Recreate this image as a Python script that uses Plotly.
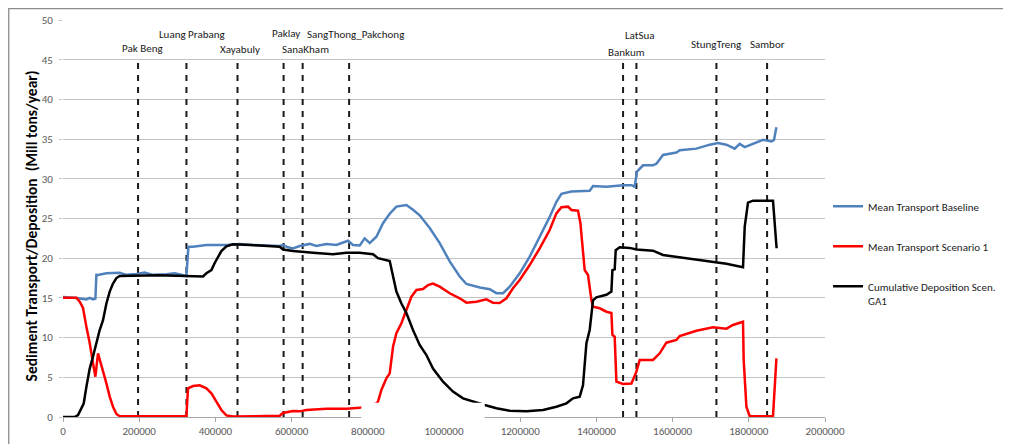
import plotly.graph_objects as go

# ---------------- data ----------------
blue_x = [0, 35200, 61400, 70100, 78700, 85000, 87700, 91900, 113900, 148800, 166400, 192700, 214400,
          236200, 271400, 293200, 323900, 329100, 341200, 376400, 428900, 463800, 498700, 533900,
          568800, 577400, 590600, 603700, 621300, 647500, 665100, 691300, 717600, 748000, 761200,
          778800, 791900, 805000, 822600, 839900, 857500, 875100, 901300, 918600, 936200, 962500,
          988700, 1015000, 1041200, 1058800, 1094000, 1120300, 1137500, 1154900, 1172500, 1198700,
          1224900, 1251200, 1277400, 1295000, 1308200, 1334400, 1382400, 1391100, 1426300, 1469800,
          1491900, 1500500, 1506600, 1522300, 1548600, 1557500, 1574800, 1610000, 1618700, 1662500,
          1697400, 1719200, 1741200, 1763000, 1776100, 1789300, 1811000, 1837300, 1859300, 1866100,
          1872500]
blue_y = [15.1, 15.0, 14.8, 15.0, 14.8, 14.9, 17.9, 17.88, 18.1, 18.17, 17.9, 18.0, 18.2,
          17.9, 17.97, 18.1, 17.75, 21.45, 21.45, 21.66, 21.66, 21.78, 21.66, 21.58,
          21.54, 21.66, 21.37, 21.24, 21.54, 21.8, 21.54, 21.8, 21.66, 22.2, 21.66,
          21.6, 22.5, 21.9, 22.7, 24.4, 25.6, 26.5, 26.7, 26.1, 25.4, 23.8,
          21.9, 19.6, 17.7, 16.75, 16.3, 16.1, 15.6, 15.6, 16.4, 18.1,
          20.2, 22.7, 25.2, 27.1, 28.1, 28.4, 28.5, 29.1, 29.0, 29.2,
          29.2, 29.0, 30.9, 31.7, 31.7, 31.9, 33.0, 33.3, 33.6, 33.8,
          34.3, 34.5, 34.3, 33.8, 34.4, 34.0, 34.4, 34.9, 34.7, 34.9,
          36.5]

red_x = [0, 35200, 43800, 52500, 61400, 70100, 78700, 85000, 91900, 98200, 105000, 113900, 122600,
         131200, 140200, 148800, 323900, 328100, 341200, 358800, 376400, 389500, 402600, 415700,
         428900, 446200, 568800, 577400, 603700, 621300, 638900, 691300, 743900, 778800, 822600,
         826800, 835700, 848800, 857500, 866200, 875100, 888200, 901300, 914500, 927600, 944900,
         958000, 971100, 988700, 1015000, 1041200, 1058800, 1085000, 1111300, 1128600, 1146200,
         1163800, 1181100, 1198700, 1224900, 1251200, 1277400, 1295000, 1308200, 1325500, 1334400,
         1351700, 1358000, 1369300, 1378000, 1386900, 1391100, 1408700, 1426300, 1439400, 1442000,
         1448000, 1452500, 1469800, 1491900, 1505000, 1513700, 1548600, 1566200, 1583700, 1610000,
         1618700, 1662500, 1706100, 1741200, 1758500, 1784800, 1786600, 1793700, 1802400, 1863500,
         1872500]
red_y = [15.03, 15.03, 14.52, 13.73, 11.37, 9.32, 6.80, 5.08, 8.02, 6.96, 5.92, 4.24, 2.56,
         1.30, 0.38, 0.10, 0.10, 3.61, 3.90, 3.99, 3.61, 2.98, 1.93, 0.88,
         0.20, 0.05, 0.15, 0.50, 0.76, 0.71, 0.89, 1.05, 1.05, 1.15, 1.70,
         1.93, 3.40, 4.87, 5.50, 8.85, 10.54, 11.80, 13.48, 15.15, 16.00, 16.12,
         16.62, 16.80, 16.41, 15.58, 14.95, 14.40, 14.52, 14.82, 14.40, 14.36,
         14.95, 16.21, 17.25, 19.14, 21.25, 23.55, 25.65, 26.41, 26.49, 26.07,
         25.98, 24.40, 18.51, 17.88, 14.74, 13.89, 13.69, 13.26, 13.10, 10.33,
         10.11, 4.45, 4.16, 4.21, 5.71, 7.18, 7.18, 8.02, 9.36, 9.70,
         10.20, 10.87, 11.30, 11.12, 11.59, 12.00, 7.18, 1.30, 0.10, 0.10,
         7.39]

black_x = [0, 30700, 39400, 45700, 54300, 61400, 70100, 78700, 87700, 96300, 105000, 113900, 122600,
           131200, 140200, 148800, 250000, 300000, 367500, 376400, 389500, 398200, 406800, 415700,
           428900, 446200, 516300, 568800, 577400, 603700, 656200, 708700, 743900, 778800, 813700,
           826800, 857500, 866200, 875100, 888200, 901300, 918600, 936200, 953800, 971100, 997400,
           1023600, 1049900, 1076100, 1106800, 1137500, 1172500, 1216300, 1259900, 1295000, 1321300,
           1338600, 1356200, 1364800, 1373800, 1382400, 1391100, 1400000, 1426300, 1439400, 1442000,
           1448000, 1450700, 1461200, 1487400, 1505000, 1548600, 1574800, 1618700, 1662500, 1715000,
           1741200, 1784800, 1789300, 1797900, 1811000, 1863500, 1873000]
black_y = [0, 0, 0.25, 0.9, 1.7, 3.8, 6.1, 7.6, 9.5, 10.96, 12.2, 14.3, 15.8,
           16.8, 17.5, 17.76, 17.85, 17.75, 17.7, 18.1, 18.5, 19.4, 20.2, 20.9,
           21.5, 21.75, 21.6, 21.45, 21.1, 20.9, 20.7, 20.5, 20.7, 20.7, 20.5,
           20.0, 19.65, 17.7, 15.8, 14.3, 13.1, 10.96, 9.07, 7.8, 6.1, 4.45,
           3.2, 2.35, 1.93, 1.51, 1.1, 0.8, 0.72, 0.88, 1.3, 1.72,
           2.35, 2.56, 4.0, 9.3, 10.96, 14.7, 15.07, 15.4, 15.8, 18.5,
           18.6, 21.0, 21.37, 21.3, 21.1, 20.95, 20.4, 20.1, 19.8, 19.4,
           19.3, 18.85, 23.97, 27.0, 27.25, 27.25, 21.25]

dam_names = ["Pak Beng", "Luang Prabang", "Xayabuly", "Paklay", "SanaKham",
             "SangThong_Pakchong", "Bankum", "LatSua", "StungTreng", "Sambor"]
dam_x = [197000, 324000, 458000, 579000, 629000, 751000, 1470000, 1505000, 1715000, 1848000]
dam_label_y = [46.4, 48.15, 46.3, 48.25, 46.3, 48.15, 45.9, 48.1, 46.9, 46.9]
dam_label_shift = [4, 6, 2, 2, 2.5, 6, 3, 4, 0, 0]
dam_line_top = 44.7

series_names = ["Mean Transport Baseline", "Mean Transport Scenario 1",
                "Cumulative Deposition Scen.<br>GA1"]

FONT = "Carlito, 'Liberation Sans Narrow', Roboto, 'Liberation Sans', sans-serif"

fig = go.Figure()

for dx in dam_x:
    fig.add_trace(go.Scatter(x=[dx, dx], y=[0, dam_line_top], mode="lines",
                             line=dict(color="#1a1a1a", width=2, dash="6px,6px"),
                             showlegend=False, hoverinfo="skip"))

fig.add_trace(go.Scatter(x=blue_x, y=blue_y, mode="lines", name=series_names[0],
                         line=dict(color="#4F81BD", width=2.5), legendgroup="a"))
fig.add_trace(go.Scatter(x=red_x, y=red_y, mode="lines", name=series_names[1],
                         line=dict(color="#FF0000", width=2.5), legendgroup="b"))
fig.add_trace(go.Scatter(x=black_x, y=black_y, mode="lines", name=series_names[2],
                         line=dict(color="#000000", width=2.5), legendgroup="c"))

for name, dx, ly, sh in zip(dam_names, dam_x, dam_label_y, dam_label_shift):
    fig.add_annotation(x=dx, y=ly, xref="x", yref="y", text=name, showarrow=False,
                       xanchor="center", yanchor="middle", xshift=sh,
                       font=dict(family=FONT, size=11, color="#1a1a1a"))

fig.add_annotation(x=-0.041, y=0.482, xref="paper", yref="paper", textangle=-90,
                   text="Sediment Transport/Deposition  (Mill tons/year)", showarrow=False,
                   xanchor="center", yanchor="middle",
                   font=dict(family=FONT, size=15.5, color="#000000", weight="bold"))

# white patch occluding part of the plot bottom (as in the reference)
fig.add_shape(type="rect", xref="paper", yref="paper", x0=0.3915, x1=0.5535,
              y0=-0.0151, y1=0.036, fillcolor="white", line=dict(width=0), layer="above")
# outer chart frame
fig.add_shape(type="rect", xref="paper", yref="paper", x0=-0.0712, x1=1.3,
              y0=-0.12, y1=1.0285, line=dict(color="#8c8c8c", width=1.3),
              fillcolor="rgba(0,0,0,0)", layer="below")

fig.update_xaxes(range=[0, 2000000], tickmode="linear", tick0=0, dtick=200000, tickformat="d",
                 showgrid=False, zeroline=False, showline=True, linecolor="#a6a6a6", linewidth=1,
                 ticks="outside", ticklen=4, tickcolor="#a6a6a6",
                 tickfont=dict(family=FONT, size=11, color="#595959"))
fig.update_yaxes(range=[0, 50], tickmode="linear", tick0=0, dtick=5,
                 showgrid=True, gridcolor="#c4c4c4", gridwidth=1, zeroline=False,
                 showline=False, ticks="outside", ticklen=3, tickcolor="#c4c4c4",
                 ticklabelstandoff=4,
                 tickfont=dict(family=FONT, size=11, color="#595959"))

# the page body adds an 8px offset, so margins are reduced by 8 on the left/top
fig.update_layout(
    width=1011, height=444,
    margin=dict(l=55, r=194, t=12, b=35, autoexpand=False),
    paper_bgcolor="white", plot_bgcolor="white",
    showlegend=True,
    legend=dict(x=1.004, y=0.565, xanchor="left", yanchor="top",
                font=dict(family=FONT, size=11, color="#1a1a1a"),
                tracegroupgap=21, valign="top", traceorder="grouped",
                bgcolor="rgba(0,0,0,0)", itemwidth=30),
)

fig.write_html("out.html")
